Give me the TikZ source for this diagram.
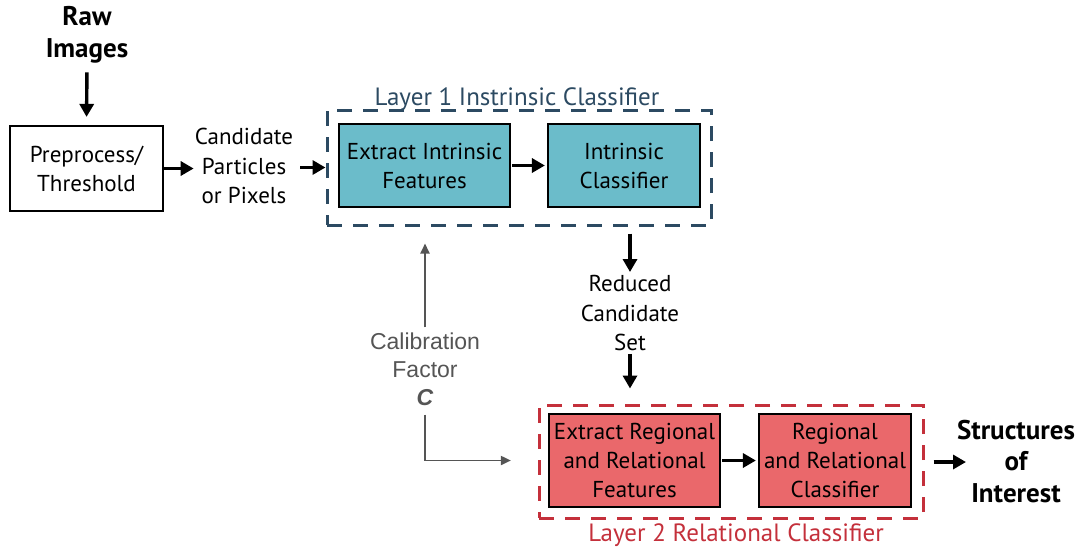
\documentclass[tikz,border=0pt]{standalone}
\usepackage{fontspec}
\setmainfont{PT Sans}
\newfontfamily\calfont{Liberation Sans}
\usetikzlibrary{arrows.meta}
\definecolor{tealfill}{HTML}{6BBCCA}
\definecolor{redfill}{HTML}{EA686B}
\definecolor{layerblue}{HTML}{2C4A62}
\definecolor{layerred}{HTML}{C4303B}
\definecolor{calgray}{HTML}{555555}
\begin{document}
\begin{tikzpicture}[x=1pt,y=-1pt,
  txt/.style={align=center, inner sep=1pt, font=\fontsize{23}{29.5}\selectfont},
  bold/.style={align=center, inner sep=1pt, font=\fontsize{27}{31.5}\selectfont\bfseries},
  box/.style={draw=black, line width=2.2pt, align=center, inner sep=0pt,
    font=\fontsize{23}{29}\selectfont},
  layer/.style={draw, line width=3pt, dash pattern=on 15pt off 11pt, inner sep=0pt},
  arr/.style={line width=3.4pt, -{Triangle[length=13pt,width=14pt]}},
  garr/.style={draw=calgray, line width=1.9pt, -{Triangle[length=10pt,width=9pt]}}
]
\useasboundingbox (0,0) rectangle (1081,550);

% layer boxes
\node[layer, draw=layerblue, minimum width=384pt, minimum height=115pt] (l1) at (519,167.5) {};
\node[layer, draw=layerred, minimum width=384pt, minimum height=113pt] (l2) at (731,461.5) {};
\node[font=\fontsize{25}{28}\selectfont, text=layerblue, inner sep=0pt, anchor=base] (l1lab) at (517,105) {Layer 1 Instrinsic Classifier};
\node[font=\fontsize{25}{28}\selectfont, text=layerred, inner sep=0pt] (l2lab) at (736,535) {Layer 2 Relational Classifier};

% nodes
\node[bold] (raw) at (87,35) {Raw\\Images};
\node[box, fill=white, minimum width=153pt, minimum height=85pt] (pre) at (86.5,168.5) {Preprocess/\\Threshold};
\node[txt] (cand) at (244,166) {Candidate\\Particles\\or Pixels};
\node[box, fill=tealfill, minimum width=171pt, minimum height=83pt] (ei) at (424.5,165.5) {Extract Intrinsic\\Features};
\node[box, fill=tealfill, minimum width=152pt, minimum height=83pt] (ic) at (624,165.5) {Intrinsic\\Classifier};
\node[txt] (red) at (630,313) {Reduced\\Candidate\\Set};
\node[box, fill=redfill, minimum width=171pt, minimum height=93pt] (er) at (634.5,460.5) {Extract Regional\\and Relational\\Features};
\node[box, fill=redfill, minimum width=152pt, minimum height=93pt] (rc) at (835,460.5) {Regional\\and Relational\\Classifier};
\node[bold] (soi) at (1016,461.5) {Structures\\of\\Interest};
\node[align=center, inner sep=1pt, text=calgray, font=\calfont\fontsize{23}{28}\selectfont] (cal) at (425,369) {Calibration\\Factor\\\textbf{\textit{C}}};
\coordinate (soiin) at (966,462);

% connectors
\draw[arr, shorten <=8pt, shorten >=8pt] (raw.south) -- (pre.north);
\draw[arr] (pre.east) -- (pre.east -| cand.west);
\draw[arr] ([xshift=6pt]cand.east |- l1.west) -- (l1.west);
\draw[arr, shorten <=1pt, shorten >=2pt] (ei.east) -- (ic.west);
\draw[arr, shorten <=7pt, shorten >=2pt] (red.north |- l1.south) -- (red.north);
\draw[arr, shorten <=2pt, shorten >=15pt] (red.south) -- (red.south |- l2.north);
\draw[arr, shorten <=1pt, shorten >=2pt] (er.east) -- (rc.west);
\draw[arr, shorten <=9pt] (l2.east |- soiin) -- (soiin);
\draw[garr, shorten <=4pt, shorten >=17pt] (cal.north) -- (cal.north |- l1.south);
\draw[garr, shorten <=8pt, shorten >=37pt] (cal.south) |- (er.west);
\end{tikzpicture}
\end{document}
